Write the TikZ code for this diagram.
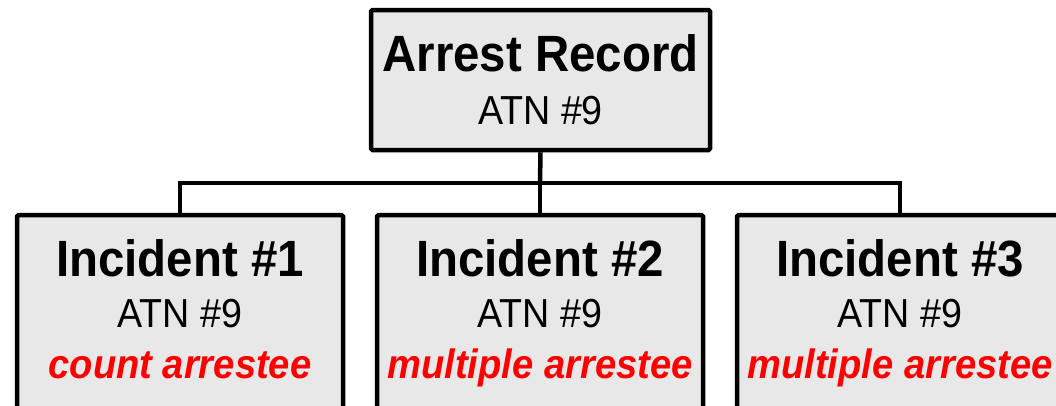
\documentclass[tikz,border=0pt]{standalone}
\usepackage{fontspec}
\setmainfont[FakeStretch=0.93]{Liberation Sans}
\usetikzlibrary{positioning}
\definecolor{recgray}{RGB}{232,232,232}
\definecolor{recred}{RGB}{255,0,0}
\tikzset{
  recbox/.style={rectangle, draw=black, fill=recgray, line width=4.5pt, rounded corners=1.5pt, align=center, inner sep=0pt},
  toprec/.style={recbox, minimum width=339pt, minimum height=140pt, font=\fontsize{40.5}{53}\selectfont},
  increc/.style={recbox, minimum width=326pt, minimum height=203pt, font=\fontsize{40.5}{51}\selectfont},
  link/.style={line width=4.5pt}
}
\newcommand{\headtxt}[1]{{\fontsize{51}{53}\selectfont\bfseries #1}}
\newcommand{\redtxt}[1]{{\fontsize{41}{51}\selectfont\color{recred}\bfseries\itshape #1\strut}}

\begin{document}
\begin{tikzpicture}[x=1pt,y=-1pt]
\useasboundingbox (0,0) rectangle (1056,405);
\clip (0,0) rectangle (1056,405);

% Arrest record on top
\node[toprec] (arrest) at (540.5,80) {\headtxt{Arrest Record}\\ATN \#9};

% Incidents below
\node[increc] (inc1) at (180,316.5) {\headtxt{Incident \#1}\\ATN \#9\\\redtxt{count arrestee}};
\node[increc] (inc2) at (540,316.5) {\headtxt{Incident \#2}\\ATN \#9\\\redtxt{multiple arrestee}};
\node[increc] (inc3) at (900,316.5) {\headtxt{Incident \#3}\\ATN \#9\\\redtxt{multiple arrestee}};

% Connectors
\coordinate (bus) at (540,183);
\draw[link] (arrest.south) -- (bus);
\draw[link] (bus) -| (inc1.north);
\draw[link] (bus) -- (inc2.north);
\draw[link] (bus) -| (inc3.north);
\end{tikzpicture}
\end{document}
